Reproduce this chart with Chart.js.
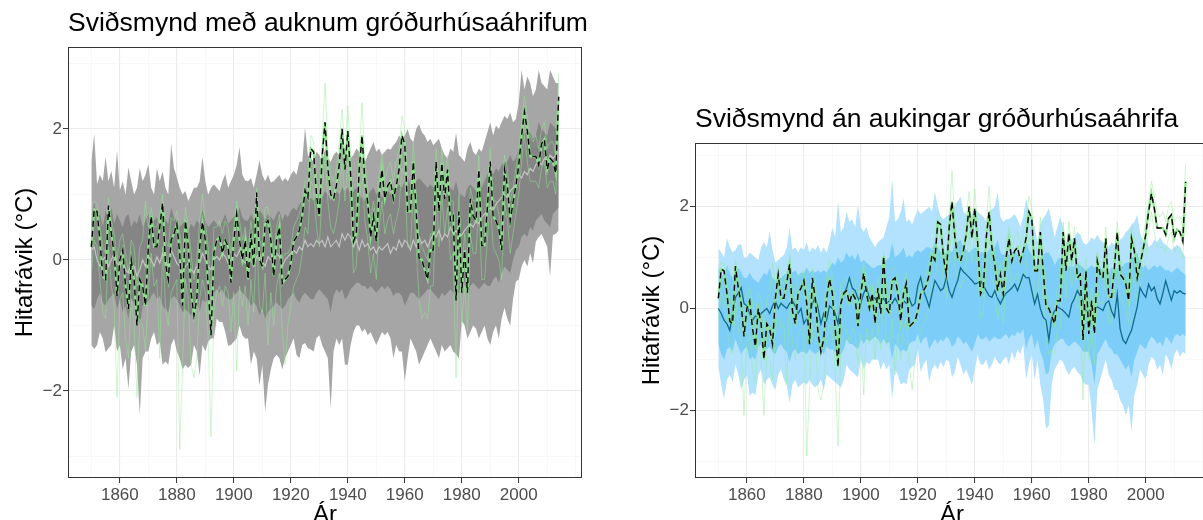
<!DOCTYPE html>
<html>
<head>
<meta charset="utf-8">
<script src="https://cdn.jsdelivr.net/npm/chart.js@4.4.1/dist/chart.umd.min.js"></script>
<style>
  html, body { margin: 0; padding: 0; background: #fff; overflow: hidden; width: 1203px; height: 520px; }
  #left { position: absolute; left: 0; top: 0; }
  #right { position: absolute; left: 620px; top: 0; }
</style>
</head>
<body>
<canvas id="left" width="600" height="530"></canvas>
<canvas id="right" width="600" height="530"></canvas>
<script>
// ár 1850-2014
var years = Array.from({ length: 165 }, function (_, i) { return 1850 + i; });

// mælingar (svört brotalína)
var obs = [
  0.2, 0.77, 0.74, 0.3, -0.25, -0.3, 0.83, 0.4, 0.1, -0.55,
  0.0, 0.15, -0.4, -0.75, 0.0, -0.3, -1.0, -0.3, -0.4, -0.7,
  0.2, 0.67, 0.2, 0.2, 0.5, 0.87, -0.05, -0.3, 0.3, 0.4,
  0.55, 0.1, -0.7, 0.6, 0.2, -0.5, -0.85, -0.6, 0.2, 0.58,
  0.3, -0.4, -1.15, 0.1, 0.3, 0.35, 0.1, 0.3, 0.2, -0.35,
  0.3, 0.7, 0.3, 0.0, 0.3, -0.3, 0.4, -0.1, 1.03, 0.0,
  -0.1, 0.55, 0.6, 0.3, -0.25, 0.3, 0.5, -0.36, -0.3, -0.25,
  -0.05, 0.28, 0.35, 0.45, 0.67, 1.06, 0.95, 1.7, 1.65, 1.0,
  0.67, 1.58, 2.1, 1.4, 1.0, 0.93, 1.13, 1.45, 2.0, 1.38,
  1.97, 1.3, 0.28, 0.4, 1.38, 1.9, 1.2, 0.87, 0.35, 0.67,
  0.28, 1.0, 1.38, 0.93, 1.13, 1.2, 0.93, 1.13, 1.38, 1.9,
  1.77, 0.74, 0.74, 1.5, 0.74, 0.03, 0.0, -0.15, -0.3, 0.15,
  0.15, 1.5, 0.74, 1.48, 0.93, 1.38, 0.6, 0.67, -0.62, 0.74,
  -0.5, 0.15, -0.5, 0.93, 0.67, 0.6, 1.38, 0.22, 0.22, 0.8,
  1.5, 0.67, 0.6, 0.48, 0.15, 1.38, 1.13, 0.6, 0.87, 1.13,
  1.45, 1.9, 2.26, 1.97, 1.58, 1.58, 1.58, 1.45, 1.77, 1.84,
  1.38, 1.55, 1.5, 1.32, 2.49
];

// önnur gagnasöfn (ljósgrænar línur), efri og neðri mörk
var greenHi = [
  0.8, 0.9, 0.85, 0.5, 0.2, 0.1, 0.95, 0.6, 0.4, 0.0,
  0.3, 0.4, 0.1, -0.2, 0.3, 0.2, -0.4, 0.2, 0.3, 0.9,
  0.5, 0.8, 0.5, 0.5, 0.7, 1.0, 0.3, 0.2, 0.65, 0.6,
  0.75, 0.4, 0.0, 0.8, 0.5, 0.1, -0.3, 0.0, 0.6, 1.0,
  0.6, 0.2, -0.6, 0.5, 0.5, 0.6, 0.4, 0.6, 0.5, 0.1,
  0.5, 0.9, 0.6, 0.3, 0.5, 0.1, 0.6, 0.2, 1.1, 0.3,
  0.2, 0.8, 0.8, 0.5, 0.1, 0.5, 0.7, 0.0, 0.1, 0.1,
  0.2, 0.5, 0.6, 0.7, 0.9, 1.2, 1.2, 1.9, 1.8, 1.2,
  0.9, 1.8, 2.7, 1.7, 1.3, 1.2, 1.4, 1.8, 2.3, 1.6,
  2.35, 1.6, 0.6, 0.7, 1.6, 2.4, 1.5, 1.1, 0.6, 0.9,
  0.6, 1.3, 1.6, 1.2, 1.4, 1.5, 1.2, 1.5, 1.7, 2.2,
  2.0, 1.0, 1.0, 1.8, 1.0, 0.3, 0.2, 0.1, 0.0, 0.4,
  0.4, 1.7, 1.0, 1.7, 1.2, 1.6, 0.9, 0.9, -0.3, 1.0,
  -0.2, 0.4, -0.2, 1.1, 0.9, 0.9, 1.6, 0.5, 0.5, 1.0,
  1.7, 0.9, 0.9, 0.7, 0.4, 1.6, 1.4, 0.9, 1.1, 1.4,
  1.7, 2.1, 2.5, 2.2, 1.9, 1.8, 1.9, 1.7, 2.0, 2.1,
  1.7, 1.8, 1.8, 1.6, 2.85
];
var greenLo = [
  -0.2, 0.3, 0.2, -0.3, -0.8, -0.9, 0.2, -0.4, -0.7, -2.1,
  -0.6, -0.5, -1.2, -1.5, -0.6, -1.0, -2.1, -0.9, -1.0, -1.4,
  -0.5, 0.1, -0.4, -0.3, -1.5, 0.2, -0.7, -1.0, -0.5, -0.4,
  -0.3, -2.9, -1.6, -0.3, -0.6, -1.6, -1.8, -1.5, -0.6, -0.3,
  -0.5, -1.2, -2.7, -0.8, -0.5, -0.4, -0.7, -0.4, -0.5, -1.1,
  -0.5, -1.7, -0.4, -0.7, -0.4, -1.0, -0.3, -0.8, 0.4, -0.7,
  -0.8, -0.2, -1.3, -0.5, -1.0, -0.4, -0.2, -1.1, -1.6, -1.0,
  -0.7, -0.4, -0.3, -0.2, 0.1, 0.5, 0.4, 1.2, 1.1, 0.5,
  0.2, 1.0, 1.6, 0.9, 0.5, 0.4, 0.6, 0.9, 1.5, 0.9,
  1.5, 0.8, -0.2, -0.1, 0.8, 1.4, 0.6, 0.3, -0.2, 0.1,
  -0.3, 0.5, 0.9, 0.4, 0.6, 0.7, 0.4, 0.6, 0.8, 1.4,
  1.3, 0.2, 0.2, 1.0, 0.2, -0.6, -0.9, -0.8, -0.9, -0.4,
  -0.4, 1.0, 0.2, 1.0, 0.4, 0.8, 0.0, 0.1, -1.8, 0.2,
  -1.0, -0.4, -1.1, 0.4, 0.1, 0.1, 0.9, -0.3, -0.3, 0.3,
  0.9, 0.2, 0.1, 0.0, -0.3, 0.9, 0.6, 0.1, 0.4, 0.7,
  1.0, 1.5, 1.9, 1.5, 1.2, 1.2, 1.2, 1.1, 1.4, 1.5,
  1.1, 1.2, 1.2, 1.0, 2.1
];

// líkön með auknum gróðurhúsaáhrifum (grátt)
var grayOuterHi = [
  1.5, 1.92, 1.16, 1.3, 1.2, 1.57, 1.2, 1.36, 1.1, 1.67,
  1.06, 1.2, 1.0, 1.41, 1.2, 1.0, 1.1, 1.4, 1.2, 1.3,
  1.46, 1.1, 1.0, 1.4, 1.2, 1.35, 1.1, 1.0, 1.77, 1.4,
  1.26, 1.1, 1.0, 1.05, 0.9, 1.0, 1.1, 1.1, 1.2, 1.57,
  1.2, 1.0, 1.1, 1.15, 1.1, 1.05, 1.2, 1.31, 1.1, 1.2,
  1.3, 1.45, 1.72, 1.3, 1.21, 1.2, 1.25, 1.1, 1.3, 1.52,
  1.3, 1.2, 1.3, 1.18, 1.2, 1.25, 1.3, 1.2, 1.25, 1.2,
  1.3, 1.36, 1.3, 1.5, 1.5, 2.02, 1.6, 1.55, 1.5, 1.65,
  1.6, 1.5, 1.7, 1.55, 1.5, 1.6, 1.65, 1.6, 1.75, 1.7,
  1.6, 1.55, 1.6, 1.7, 1.65, 1.55, 1.5, 1.6, 1.7, 1.8,
  1.65, 1.7, 1.6, 1.65, 1.7, 1.68, 1.75, 1.8, 1.9, 1.85,
  1.9, 2.0, 1.85, 1.8, 2.0, 2.07, 1.95, 1.9, 1.8, 1.85,
  1.75, 1.8, 1.85, 1.7, 1.6, 1.55, 1.7, 1.65, 1.94, 1.6,
  1.55, 1.5, 1.7, 1.8, 1.65, 1.6, 1.7, 1.65, 1.8, 1.95,
  2.1, 1.9, 2.05, 2.0, 2.1, 2.2, 2.15, 2.25, 2.1, 2.15,
  2.4, 2.9, 2.6, 2.8, 2.7, 2.5, 2.6, 2.9, 2.7, 2.65,
  2.6, 2.9, 2.8, 2.7, 2.7
];
var grayOuterLo = [
  -1.3, -1.36, -1.3, -1.1, -1.2, -1.41, -1.35, -1.3, -1.0, -1.4,
  -1.3, -1.67, -1.5, -1.97, -1.4, -1.3, -1.6, -2.37, -1.5, -1.4,
  -1.4, -1.2, -1.1, -1.3, -1.25, -1.6, -1.55, -1.6, -1.3, -1.2,
  -1.4, -1.5, -1.67, -1.6, -1.65, -1.6, -1.3, -1.4, -1.77, -1.3,
  -1.4, -1.25, -1.2, -1.2, -0.9, -0.95, -0.95, -1.1, -1.31, -1.3,
  -1.25, -1.2, -1.0, -1.15, -1.2, -1.2, -1.6, -1.4, -1.5, -1.92,
  -1.6, -2.32, -1.9, -1.67, -1.5, -1.45, -1.5, -1.67, -1.5, -1.4,
  -1.3, -1.2, -1.45, -1.5, -1.3, -1.27, -1.35, -1.37, -1.4, -1.2,
  -1.15, -1.3, -1.4, -1.5, -2.27, -1.4, -1.2, -1.3, -1.2, -1.6,
  -1.6, -1.3, -1.1, -1.0, -1.0, -1.1, -1.05, -1.15, -1.1, -1.2,
  -1.3, -1.2, -1.1, -1.15, -1.1, -1.2, -1.5, -1.3, -1.4, -1.4,
  -1.85, -1.5, -1.2, -1.3, -1.4, -1.6, -1.5, -1.4, -1.3, -1.2,
  -1.3, -1.4, -1.5, -1.3, -1.4, -1.35, -1.3, -1.4, -1.44, -1.5,
  -0.93, -1.0, -1.2, -1.1, -1.0, -1.05, -1.2, -1.1, -1.0, -1.2,
  -1.3, -1.1, -1.0, -1.2, -0.9, -0.73, -0.9, -1.0, -0.6, -0.33,
  -0.3, -0.1, 0.0, -0.1, 0.1, -0.05, 0.28, 0.35, 0.4, 0.3,
  0.2, -0.25, 0.38, 0.4, 0.45
];
var grayInnerHi = [
  0.6, 0.9, 0.6, 0.7, 0.5, 0.75, 0.6, 0.8, 0.55, 0.7,
  0.6, 0.5, 0.65, 0.7, 0.5, 0.6, 0.55, 0.7, 0.5, 0.6,
  0.7, 0.55, 0.6, 0.65, 0.5, 0.7, 0.6, 0.55, 0.8, 0.65,
  0.6, 0.5, 0.55, 0.6, 0.45, 0.55, 0.5, 0.6, 0.55, 0.75,
  0.6, 0.5, 0.55, 0.6, 0.55, 0.5, 0.6, 0.7, 0.55, 0.6,
  0.65, 0.7, 0.8, 0.65, 0.6, 0.6, 0.7, 0.6, 0.65, 0.75,
  0.7, 0.6, 0.7, 0.65, 0.6, 0.7, 0.75, 0.6, 0.7, 0.65,
  0.75, 0.8, 0.75, 0.85, 0.9, 1.1, 0.9, 0.95, 0.9, 1.0,
  1.0, 0.95, 1.05, 1.0, 0.9, 1.0, 1.05, 1.0, 1.1, 1.05,
  1.1, 1.0, 1.05, 1.1, 1.0, 0.95, 0.9, 1.0, 1.05, 1.1,
  1.0, 1.05, 0.95, 1.0, 1.05, 1.0, 1.1, 1.1, 1.15, 1.1,
  1.2, 1.25, 1.15, 1.1, 1.2, 1.25, 1.2, 1.15, 1.1, 1.15,
  1.1, 1.15, 1.2, 1.1, 1.05, 1.0, 1.1, 1.05, 1.2, 1.0,
  1.0, 0.95, 1.1, 1.15, 1.1, 1.05, 1.15, 1.1, 1.2, 1.3,
  1.4, 1.3, 1.4, 1.35, 1.45, 1.5, 1.5, 1.6, 1.5, 1.55,
  1.7, 2.0, 1.9, 2.0, 1.95, 1.85, 1.9, 2.1, 2.0, 1.95,
  1.9, 2.1, 2.05, 2.0, 1.9
];
var grayInnerLo = [
  -0.7, -0.75, -0.6, -0.5, -0.65, -0.7, -0.6, -0.55, -0.5, -0.75,
  -0.6, -0.8, -0.7, -0.9, -0.6, -0.65, -0.8, -1.0, -0.7, -0.6,
  -0.65, -0.55, -0.5, -0.6, -0.55, -0.7, -0.75, -0.8, -0.6, -0.55,
  -0.6, -0.7, -0.8, -0.75, -0.8, -0.85, -0.7, -0.6, -0.8, -0.6,
  -0.65, -0.6, -0.55, -0.5, -0.45, -0.5, -0.45, -0.55, -0.6, -0.6,
  -0.55, -0.5, -0.45, -0.5, -0.55, -0.6, -0.7, -0.65, -0.7, -0.85,
  -0.75, -0.9, -0.8, -0.75, -0.7, -0.65, -0.7, -0.75, -0.7, -0.6,
  -0.55, -0.5, -0.6, -0.65, -0.55, -0.5, -0.55, -0.6, -0.6, -0.5,
  -0.45, -0.5, -0.55, -0.6, -0.8, -0.55, -0.45, -0.5, -0.45, -0.6,
  -0.55, -0.45, -0.4, -0.35, -0.35, -0.4, -0.4, -0.45, -0.4, -0.45,
  -0.5, -0.45, -0.4, -0.45, -0.4, -0.45, -0.55, -0.5, -0.5, -0.55,
  -0.7, -0.6, -0.5, -0.5, -0.55, -0.6, -0.55, -0.5, -0.45, -0.45,
  -0.5, -0.55, -0.6, -0.5, -0.55, -0.5, -0.45, -0.5, -0.55, -0.5,
  -0.3, -0.35, -0.45, -0.4, -0.35, -0.4, -0.45, -0.4, -0.35, -0.4,
  -0.4, -0.3, -0.25, -0.35, -0.2, -0.1, -0.15, -0.2, 0.0, 0.15,
  0.2, 0.35, 0.4, 0.35, 0.5, 0.45, 0.6, 0.65, 0.7, 0.6,
  0.55, 0.5, 0.7, 0.75, 0.8
];
var grayMean = [
  0.15, 0.2, 0.0, -0.1, 0.0, 0.05, -0.1, 0.0, 0.1, -0.05,
  -0.1, 0.0, -0.15, -0.2, -0.05, -0.1, -0.25, -0.15, 0.0, -0.1,
  0.05, 0.0, -0.1, 0.05, -0.05, 0.1, 0.0, -0.1, 0.15, 0.05,
  -0.05, -0.1, -0.2, -0.1, -0.05, -0.15, -0.2, -0.1, -0.05, 0.1,
  0.0, -0.1, -0.15, 0.0, 0.05, 0.0, 0.1, 0.05, -0.05, 0.0,
  0.1, 0.05, 0.15, 0.0, -0.05, 0.05, 0.0, -0.1, 0.05, 0.1,
  0.0, -0.1, 0.05, 0.0, -0.05, 0.1, 0.05, -0.1, 0.0, 0.05,
  0.1, 0.15, 0.1, 0.2, 0.15, 0.3, 0.2, 0.25, 0.2, 0.3,
  0.25, 0.3, 0.2, 0.35, 0.2, 0.25, 0.3, 0.2, 0.4, 0.3,
  0.4, 0.35, 0.2, 0.3, 0.15, 0.3, 0.2, 0.25, 0.15, 0.2,
  0.1, 0.2, 0.15, 0.2, 0.25, 0.1, 0.2, 0.15, 0.3, 0.2,
  0.3, 0.25, 0.15, 0.3, 0.2, 0.35, 0.25, 0.3, 0.2, 0.3,
  0.4, 0.35, 0.45, 0.3, 0.4, 0.35, 0.5, 0.4, 0.45, 0.35,
  0.38, 0.45, 0.5, 0.55, 0.5, 0.6, 0.55, 0.65, 0.7, 0.75,
  0.8, 0.75, 0.85, 0.9, 0.95, 1.0, 0.95, 1.05, 1.1, 1.15,
  1.3, 1.25, 1.35, 1.3, 1.4, 1.35, 1.45, 1.5, 1.45, 1.55,
  1.5, 1.6, 1.55, 1.6, 1.55
];

// líkön án aukinna gróðurhúsaáhrifa (blátt)
var blueOuterHi = [
  1.19, 1.1, 1.0, 1.38, 1.2, 1.1, 1.15, 1.25, 1.26, 1.0,
  1.0, 1.1, 1.05, 1.0, 0.95, 1.2, 1.3, 1.2, 1.51, 1.15,
  0.9, 0.95, 1.0, 1.05, 1.2, 1.58, 1.15, 1.2, 1.1, 1.2,
  1.15, 1.3, 1.1, 1.2, 1.15, 1.25, 1.1, 1.2, 1.1, 1.3,
  1.58, 1.4, 2.1, 1.5, 1.6, 1.9, 1.7, 1.75, 1.6, 2.03,
  1.6, 1.5, 1.6, 1.4, 1.3, 1.2, 1.3, 1.35, 1.4, 1.6,
  1.8, 2.55, 1.7, 1.75, 1.9, 2.16, 1.7, 1.75, 1.65, 1.8,
  1.95, 1.85, 1.9, 1.95, 2.0, 1.9, 2.29, 2.0, 1.8, 1.75,
  1.8, 1.85, 1.75, 2.05, 2.1, 2.2, 1.9, 1.85, 1.7, 1.85,
  1.95, 1.9, 1.85, 1.8, 1.7, 1.9, 1.95, 2.0, 2.29, 1.8,
  1.7, 1.75, 1.75, 1.8, 1.85, 1.75, 1.6, 1.8, 2.16, 1.9,
  1.75, 1.6, 1.3, 1.65, 1.77, 1.85, 1.97, 1.7, 1.4, 1.6,
  1.8, 1.6, 1.3, 1.4, 1.35, 1.4, 1.5, 1.45, 1.3, 1.25,
  1.3, 1.4, 1.35, 1.45, 1.35, 1.3, 1.25, 1.2, 1.3, 1.25,
  1.3, 1.35, 1.4, 1.5, 1.55, 1.65, 1.7, 1.84, 1.5, 1.3,
  1.4, 1.2, 1.25, 1.35, 1.3, 1.4, 1.3, 1.25, 1.2, 1.15,
  1.2, 1.25, 1.2, 1.1, 1.0
];
var blueOuterLo = [
  -1.14, -1.5, -1.79, -1.4, -1.3, -1.45, -1.1, -1.3, -1.6, -1.4,
  -1.3, -1.72, -1.65, -1.7, -1.3, -1.2, -1.5, -1.4, -1.35, -1.5,
  -1.6, -1.3, -1.2, -1.4, -1.5, -1.85, -1.5, -1.4, -1.55, -1.5,
  -1.45, -1.5, -1.4, -1.5, -1.55, -1.5, -1.4, -1.6, -1.3, -1.35,
  -1.4, -1.45, -1.5, -1.55, -1.4, -1.1, -1.2, -1.25, -1.3, -1.35,
  -1.0, -1.2, -1.05, -1.1, -1.0, -1.0, -1.0, -1.2, -1.05, -1.2,
  -1.1, -1.79, -1.2, -1.3, -1.5, -1.45, -1.5, -1.2, -1.15, -1.1,
  -0.8, -1.25, -1.1, -1.0, -1.45, -1.2, -1.1, -1.2, -1.05, -1.15,
  -1.0, -1.05, -1.35, -1.25, -0.95, -1.1, -1.3, -1.2, -1.35, -1.5,
  -1.2, -0.9, -1.1, -1.1, -1.0, -1.2, -1.1, -0.95, -1.05, -1.1,
  -1.0, -0.95, -1.1, -0.85, -1.0, -0.8, -0.9, -0.7, -1.4, -1.1,
  -0.9, -1.4, -1.0, -1.5, -1.8, -2.37, -2.3, -1.5, -1.2, -1.1,
  -1.0, -1.05, -1.2, -1.3, -1.2, -1.15, -1.25, -1.3, -1.45, -1.5,
  -1.5, -2.0, -2.69, -1.6, -1.4, -1.2, -1.0, -1.3, -1.4, -1.6,
  -1.6, -1.8, -1.9, -2.1, -1.9, -2.43, -1.7, -1.5, -1.2, -1.3,
  -1.4, -1.1, -0.95, -1.0, -1.2, -1.1, -1.3, -0.9, -1.0, -1.2,
  -0.9, -0.8, -0.95, -0.85, -0.9
];
var blueInnerHi = [
  0.8, 0.7, 0.6, 0.85, 0.7, 0.6, 0.75, 0.8, 0.7, 0.6,
  0.6, 0.7, 0.6, 0.55, 0.5, 0.6, 0.7, 0.65, 0.8, 0.6,
  0.55, 0.6, 0.6, 0.65, 0.7, 0.9, 0.7, 0.75, 0.65, 0.7,
  0.7, 0.8, 0.7, 0.75, 0.7, 0.75, 0.7, 0.75, 0.7, 0.8,
  0.9, 0.85, 1.0, 0.9, 0.95, 1.1, 1.0, 1.05, 0.95, 1.1,
  0.9, 0.95, 0.9, 0.85, 0.8, 0.8, 0.85, 0.85, 0.9, 0.95,
  1.0, 1.3, 1.0, 1.05, 1.1, 1.2, 1.0, 1.05, 1.0, 1.1,
  1.15, 1.1, 1.15, 1.2, 1.2, 1.15, 1.3, 1.2, 1.1, 1.1,
  1.1, 1.15, 1.1, 1.25, 1.3, 1.35, 1.2, 1.15, 1.1, 1.15,
  1.2, 1.15, 1.1, 1.1, 1.05, 1.15, 1.2, 1.2, 1.35, 1.1,
  1.05, 1.1, 1.05, 1.1, 1.15, 1.05, 1.0, 1.1, 1.3, 1.15,
  1.05, 0.95, 0.8, 1.0, 1.05, 1.1, 1.1, 1.0, 0.85, 0.95,
  1.0, 0.9, 0.8, 0.85, 0.8, 0.85, 0.9, 0.85, 0.8, 0.75,
  0.8, 0.85, 0.8, 0.85, 0.8, 0.75, 0.75, 0.7, 0.8, 0.75,
  0.8, 0.8, 0.85, 0.9, 0.9, 1.0, 1.0, 1.1, 0.9, 0.8,
  0.85, 0.75, 0.8, 0.85, 0.8, 0.85, 0.8, 0.75, 0.75, 0.7,
  0.75, 0.8, 0.75, 0.7, 0.65
];
var blueInnerLo = [
  -0.7, -0.9, -1.0, -0.8, -0.75, -0.85, -0.6, -0.75, -0.9, -0.8,
  -0.75, -1.0, -0.95, -1.0, -0.75, -0.7, -0.85, -0.8, -0.75, -0.85,
  -0.9, -0.75, -0.7, -0.8, -0.85, -1.05, -0.85, -0.8, -0.9, -0.85,
  -0.85, -0.9, -0.8, -0.85, -0.9, -0.85, -0.8, -0.9, -0.75, -0.8,
  -0.8, -0.85, -0.9, -0.9, -0.8, -0.6, -0.7, -0.7, -0.75, -0.8,
  -0.6, -0.7, -0.6, -0.65, -0.6, -0.55, -0.6, -0.7, -0.6, -0.7,
  -0.65, -1.0, -0.7, -0.75, -0.85, -0.8, -0.85, -0.7, -0.65, -0.65,
  -0.5, -0.7, -0.6, -0.55, -0.8, -0.7, -0.6, -0.7, -0.6, -0.65,
  -0.55, -0.6, -0.75, -0.7, -0.55, -0.6, -0.7, -0.65, -0.75, -0.85,
  -0.7, -0.5, -0.6, -0.6, -0.55, -0.65, -0.6, -0.55, -0.6, -0.6,
  -0.55, -0.5, -0.6, -0.5, -0.55, -0.45, -0.5, -0.4, -0.8, -0.6,
  -0.5, -0.8, -0.6, -0.85, -1.0, -1.3, -1.25, -0.85, -0.7, -0.65,
  -0.6, -0.6, -0.7, -0.75, -0.7, -0.65, -0.7, -0.75, -0.85, -0.85,
  -0.85, -1.1, -1.5, -0.9, -0.8, -0.7, -0.6, -0.75, -0.8, -0.9,
  -0.9, -1.0, -1.1, -1.2, -1.1, -1.35, -1.0, -0.85, -0.7, -0.75,
  -0.8, -0.65, -0.55, -0.6, -0.7, -0.65, -0.75, -0.55, -0.6, -0.7,
  -0.55, -0.5, -0.55, -0.5, -0.55
];
var blueMean = [
  0.0, -0.1, -0.23, -0.3, -0.43, -0.1, 0.22, 0.3, 0.41, 0.1,
  0.05, -0.1, -0.23, -0.15, -0.17, -0.1, -0.05, 0.0, -0.1, 0.05,
  0.15, 0.0, 0.1, 0.05, 0.0, 0.1, 0.15, 0.05, -0.1, 0.0,
  -0.3, -0.2, -0.17, 0.1, 0.22, 0.0, -0.3, -0.1, -0.23, 0.05,
  0.0, -0.1, -0.3, 0.1, 0.28, 0.4, 0.6, 0.4, 0.35, 0.2,
  0.1, 0.3, 0.41, 0.2, 0.22, 0.2, 0.1, 0.15, 0.2, 0.1,
  0.15, 0.1, 0.2, 0.1, 0.05, 0.15, 0.1, 0.2, 0.05, 0.1,
  0.45, 0.61, 0.35, 0.2, 0.03, 0.3, 0.55, 0.45, 0.35, 0.4,
  0.61, 0.35, 0.22, 0.4, 0.55, 0.8, 0.72, 0.67, 0.61, 0.55,
  0.48, 0.5, 0.55, 0.45, 0.35, 0.25, 0.22, 0.35, 0.2, 0.09,
  0.22, 0.3, 0.35, 0.4, 0.48, 0.35, 0.5, 0.67, 0.6, 0.61,
  0.35, 0.09, 0.28, 0.0, -0.17, -0.23, -0.62, -0.17, -0.05, 0.03,
  0.0, -0.04, -0.1, -0.17, 0.09, 0.2, 0.35, 0.25, 0.15, -0.04,
  -0.04, -0.04, 0.0, 0.03, 0.0, -0.04, 0.1, 0.15, -0.05, -0.17,
  0.28, -0.4, -0.62, -0.69, -0.55, -0.43, -0.2, 0.03, 0.41, 0.3,
  0.22, 0.48, 0.35, 0.42, 0.2, 0.09, 0.3, 0.54, 0.35, 0.16,
  0.35, 0.3, 0.35, 0.3, 0.28
];

// ásar
var xGrid = [1850, 1860, 1870, 1880, 1890, 1900, 1910, 1920, 1930, 1940, 1950, 1960, 1970, 1980, 1990, 2000, 2010, 2020];
var xLabels = [1860, 1880, 1900, 1920, 1940, 1960, 1980, 2000];
var yGrid = [-3, -2, -1, 0, 1, 2, 3];
var yLabels = [-2, 0, 2];

var FONT = "'Liberation Sans', Arial, sans-serif";
Chart.defaults.font.family = FONT;

function pts(vals) {
  return years.map(function (yr, i) { return { x: yr, y: vals[i] }; });
}

// rammi og fyrirsögn
var panelDeco = {
  id: 'panelDeco',
  afterDraw: function (chart, args, opts) {
    var ctx = chart.ctx, a = chart.chartArea;
    ctx.save();
    ctx.strokeStyle = '#333333';
    ctx.lineWidth = 1;
    ctx.strokeRect(Math.round(a.left) + 0.5, Math.round(a.top) + 0.5,
      Math.round(a.right - a.left) - 1, Math.round(a.bottom - a.top) - 1);
    ctx.fillStyle = '#000';
    ctx.font = '26.5px ' + FONT;
    ctx.textBaseline = 'alphabetic';
    ctx.textAlign = 'left';
    ctx.fillText(opts.text, a.left, a.top - 16);
    ctx.restore();
  }
};

function xScale() {
  return {
    type: 'linear', min: 1841.8, max: 2022.2,
    afterBuildTicks: function (s) { s.ticks = xGrid.map(function (v) { return { value: v }; }); },
    afterFit: function (s) { s.height = 52; },
    ticks: {
      autoSkip: false, maxRotation: 0, padding: 2, color: '#4d4d4d', font: { size: 17 },
      callback: function (v) { return xLabels.indexOf(v) >= 0 ? String(v) : ''; }
    },
    grid: {
      color: function (c) { return xLabels.indexOf(c.tick.value) >= 0 ? '#ebebeb' : '#f3f3f3'; },
      lineWidth: function (c) { return xLabels.indexOf(c.tick.value) >= 0 ? 1.1 : 0.6; },
      tickColor: function (c) { return xLabels.indexOf(c.tick.value) >= 0 ? '#333333' : 'rgba(0,0,0,0)'; },
      tickLength: 5, tickWidth: 1
    },
    border: { display: false },
    title: { display: true, text: 'Ár', color: '#000', font: { size: 24 }, padding: { top: 0, bottom: 0 } }
  };
}

function yScale(width, titlePad) {
  return {
    type: 'linear', min: -3.33, max: 3.25,
    afterBuildTicks: function (s) { s.ticks = yGrid.map(function (v) { return { value: v }; }); },
    afterFit: function (s) { s.width = width; },
    ticks: {
      autoSkip: false, padding: 1, color: '#4d4d4d', font: { size: 17 },
      callback: function (v) { return yLabels.indexOf(v) >= 0 ? String(v).replace('-', '\u2212') : ''; }
    },
    grid: {
      color: function (c) { return yLabels.indexOf(c.tick.value) >= 0 ? '#ebebeb' : '#f3f3f3'; },
      lineWidth: function (c) { return yLabels.indexOf(c.tick.value) >= 0 ? 1.1 : 0.6; },
      tickColor: function (c) { return yLabels.indexOf(c.tick.value) >= 0 ? '#333333' : 'rgba(0,0,0,0)'; },
      tickLength: 5, tickWidth: 1
    },
    border: { display: false },
    title: { display: true, text: 'Hitafrávik (°C)', color: '#000', font: { size: 24 }, padding: { top: titlePad, bottom: 0 } }
  };
}

function band(lo, hi, color, order) {
  return [
    { data: pts(lo), borderWidth: 0, borderColor: 'rgba(0,0,0,0)', fill: false, order: order },
    { data: pts(hi), borderWidth: 0, borderColor: 'rgba(0,0,0,0)', backgroundColor: color, fill: '-1', order: order }
  ];
}

function obsLayers() {
  return [
    { data: pts(greenLo), borderColor: 'rgba(144,238,144,0.45)', borderWidth: 1, fill: false, order: 6 },
    { data: pts(greenHi), borderColor: 'rgba(144,238,144,0.45)', borderWidth: 1, fill: false, order: 6 },
    { data: pts(obs), borderColor: 'rgba(140,228,140,0.95)', borderWidth: 2.2, fill: false, order: 3 },
    { data: pts(obs), borderColor: '#000000', borderWidth: 1.4, borderDash: [6, 4], fill: false, order: 1 }
  ];
}

function makeChart(id, datasets, pad, yWidth, titlePad, title) {
  return new Chart(document.getElementById(id).getContext('2d'), {
    type: 'line',
    data: { datasets: datasets },
    options: {
      responsive: false, animation: false, devicePixelRatio: 1,
      layout: { padding: pad },
      elements: { point: { radius: 0 }, line: { tension: 0 } },
      plugins: { legend: { display: false }, tooltip: { enabled: false }, panelDeco: { text: title } },
      scales: { x: xScale(), y: yScale(yWidth, titlePad) }
    },
    plugins: [panelDeco]
  });
}

var leftSets = []
  .concat(band(grayOuterLo, grayOuterHi, '#a6a6a6', 10))
  .concat(band(grayInnerLo, grayInnerHi, '#858585', 9))
  .concat(obsLayers())
  .concat([{ data: pts(grayMean), borderColor: '#c8c8c8', borderWidth: 1.1, fill: false, order: 4 }]);

var rightSets = []
  .concat(band(blueOuterLo, blueOuterHi, '#b2e2fe', 10))
  .concat(band(blueInnerLo, blueInnerHi, '#7ccdf8', 9))
  .concat(obsLayers())
  .concat([{ data: pts(blueMean), borderColor: '#0e6a8a', borderWidth: 1.3, fill: false, order: 4 }]);

makeChart('left', leftSets, { left: 0, right: 18, top: 47, bottom: 0 }, 68, 10.5,
  'Sviðsmynd með auknum gróðurhúsaáhrifum');
makeChart('right', rightSets, { left: 4, right: 11, top: 143, bottom: 0 }, 71, 13.5,
  'Sviðsmynd án aukingar gróðurhúsaáhrifa');
</script>
</body>
</html>
